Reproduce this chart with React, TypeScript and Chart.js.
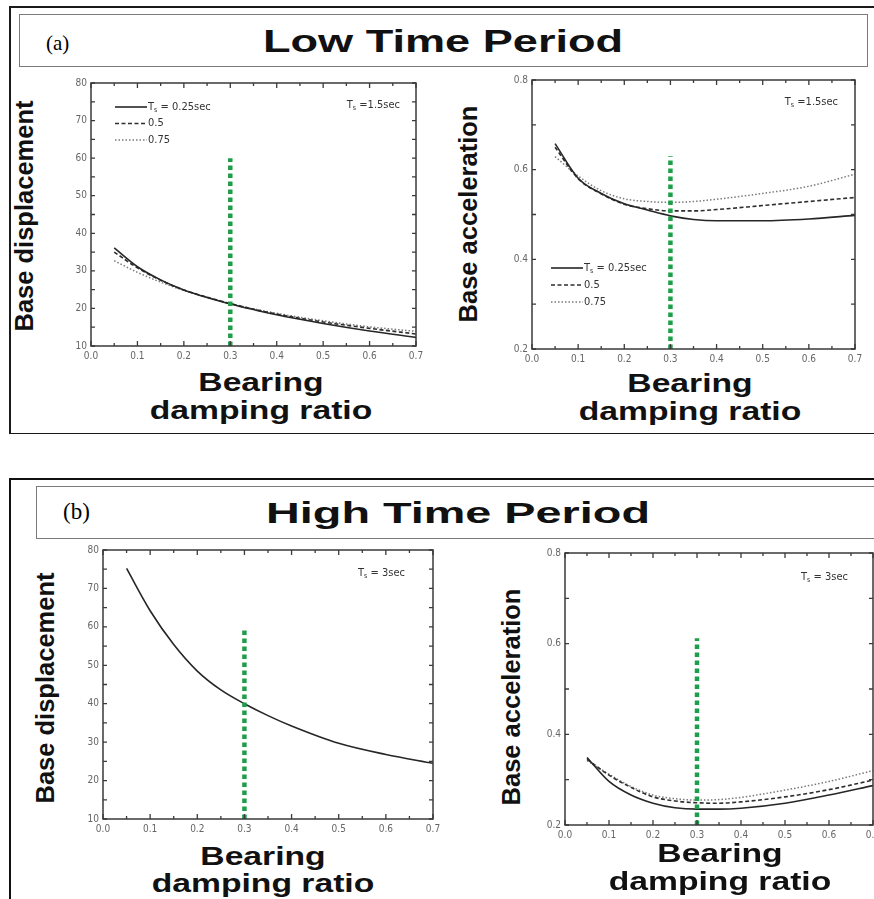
import React, { useEffect, useRef } from "react";
import { Chart, registerables } from "chart.js";

Chart.register(...registerables);

// ---------- data ----------
const dampingRatio = [0.05, 0.1, 0.15, 0.2, 0.25, 0.3, 0.35, 0.4, 0.5, 0.6, 0.7];

const lowDisp025 = [36.1, 31.1, 27.6, 24.9, 22.9, 21.2, 19.7, 18.3, 16.0, 14.0, 12.3];
const lowDisp05 = [35.0, 30.8, 27.5, 24.9, 23.0, 21.3, 19.8, 18.5, 16.4, 14.7, 13.2];
const lowDisp075 = [32.7, 29.6, 27.0, 24.8, 23.0, 21.3, 19.9, 18.7, 16.7, 15.1, 13.9];

const lowAcc025 = [0.658, 0.581, 0.547, 0.524, 0.51, 0.497, 0.489, 0.486, 0.486, 0.49, 0.498];
const lowAcc05 = [0.65, 0.58, 0.546, 0.523, 0.513, 0.508, 0.508, 0.511, 0.52, 0.529, 0.538];
const lowAcc075 = [0.629, 0.586, 0.553, 0.535, 0.529, 0.527, 0.529, 0.534, 0.547, 0.563, 0.59];

const highDisp = [75.2, 64.2, 55.4, 48.5, 43.6, 40.0, 36.9, 34.2, 29.7, 26.8, 24.5];

const highAcc025 = [0.349, 0.296, 0.266, 0.248, 0.238, 0.235, 0.235, 0.237, 0.248, 0.266, 0.287];
const highAcc05 = [0.345, 0.31, 0.283, 0.262, 0.253, 0.249, 0.248, 0.251, 0.262, 0.278, 0.299];
const highAcc075 = [0.342, 0.312, 0.285, 0.266, 0.258, 0.255, 0.256, 0.261, 0.277, 0.296, 0.32];

const markerRatio = 0.3;
const markerTopLowDisp = 60;
const markerTopLowAcc = 0.63;
const markerTopHighDisp = 59.6;
const markerTopHighAcc = 0.612;

const legendLabels = ["T_s = 0.25sec", "0.5", "0.75"];
const noteLow = "T_s =1.5sec";
const noteHigh = "T_s = 3sec";

const xTickLabels = ["0.0", "0.1", "0.2", "0.3", "0.4", "0.5", "0.6", "0.7"];

// ---------- styles ----------
const SMALL_FONT = '"Liberation Sans Narrow", "DejaVu Sans Condensed", "Liberation Sans", sans-serif';
const BOLD_FONT = '"Liberation Sans", Arial, sans-serif';
const GREEN = "#1f9e4a";

const seriesStyles = [
  { color: "#262626", width: 1.6, dash: [] as number[] },
  { color: "#2e2e2e", width: 1.6, dash: [4, 2.5] },
  { color: "#7a7a7a", width: 1.5, dash: [1.5, 2] },
];

function pairs(ys: number[]) {
  return dampingRatio.map((x, i) => ({ x, y: ys[i] }));
}

function drawSub(ctx: CanvasRenderingContext2D, text: string, x: number, y: number, size: number) {
  const parts = text.split("_");
  let cx = x;
  ctx.font = `${size}px ${SMALL_FONT}`;
  ctx.fillText(parts[0], cx, y);
  cx += ctx.measureText(parts[0]).width;
  if (parts.length > 1) {
    const sub = parts[1][0];
    const rest = parts[1].slice(1);
    ctx.font = `${size * 0.65}px ${SMALL_FONT}`;
    ctx.fillText(sub, cx, y + size * 0.3);
    cx += ctx.measureText(sub).width;
    ctx.font = `${size}px ${SMALL_FONT}`;
    ctx.fillText(rest, cx, y);
    cx += ctx.measureText(rest).width;
  }
  return cx - x;
}

function measureSub(ctx: CanvasRenderingContext2D, text: string, size: number) {
  const parts = text.split("_");
  ctx.font = `${size}px ${SMALL_FONT}`;
  let w = ctx.measureText(parts[0]).width;
  if (parts.length > 1) {
    ctx.font = `${size * 0.65}px ${SMALL_FONT}`;
    w += ctx.measureText(parts[1][0]).width;
    ctx.font = `${size}px ${SMALL_FONT}`;
    w += ctx.measureText(parts[1].slice(1)).width;
  }
  return w;
}

const decorPlugin = {
  id: "decor",
  afterDatasetsDraw(chart: any, _args: any, opts: any) {
    const { ctx, chartArea: a, scales } = chart;
    const xs = scales.x;
    const ys = scales.y;
    ctx.save();
    ctx.strokeStyle = "#3a3a3a";
    ctx.lineWidth = 1.5;
    ctx.setLineDash([]);
    ctx.strokeRect(a.left, a.top, a.right - a.left, a.bottom - a.top);
    ctx.lineWidth = 1.3;
    // x ticks (every 0.05, major every 0.1)
    for (let i = 0; i <= 14; i++) {
      const px = xs.getPixelForValue(i * 0.05);
      const len = i % 2 === 0 ? 5 : 3;
      ctx.beginPath();
      ctx.moveTo(px, a.bottom);
      ctx.lineTo(px, a.bottom - len);
      ctx.moveTo(px, a.top);
      ctx.lineTo(px, a.top + len);
      ctx.stroke();
    }
    // y ticks
    const n = Math.round((opts.yMax - opts.yMin) / opts.yMinor);
    for (let i = 0; i <= n; i++) {
      const py = ys.getPixelForValue(opts.yMin + i * opts.yMinor);
      const len = 4;
      ctx.beginPath();
      ctx.moveTo(a.left, py);
      ctx.lineTo(a.left + len, py);
      ctx.moveTo(a.right, py);
      ctx.lineTo(a.right - len, py);
      ctx.stroke();
    }
    // legend
    ctx.textBaseline = "middle";
    ctx.fillStyle = "#333";
    if (opts.legend) {
      const lg = opts.legend;
      legendLabels.forEach((lab, i) => {
        const st = seriesStyles[i];
        const y = a.top + lg.top + i * lg.row;
        const x0 = a.left + lg.left;
        ctx.strokeStyle = st.color;
        ctx.lineWidth = st.width;
        ctx.setLineDash(st.dash);
        ctx.beginPath();
        ctx.moveTo(x0, y);
        ctx.lineTo(x0 + lg.len, y);
        ctx.stroke();
        ctx.setLineDash([]);
        drawSub(ctx, lab, x0 + lg.len + 1, y, 11);
      });
    }
    if (opts.note) {
      const w = measureSub(ctx, opts.note.text, 11);
      drawSub(ctx, opts.note.text, a.right - opts.note.right - w, a.top + opts.note.top, 11);
    }
    ctx.restore();
  },
};

type PlotCfg = {
  series: number[][];
  yMin: number;
  yMax: number;
  yStep: number;
  yMinor: number;
  yDecimals: number;
  markerTop: number;
  legend?: { left: number; top: number; row: number; len: number };
  note: { text: string; right: number; top: number };
};

const YW = 30;
const PADT = 10;
const PADR = 12;
const XH = 20;

function Plot({ cfg, area }: { cfg: PlotCfg; area: { left: number; top: number; right: number; bottom: number } }) {
  const ref = useRef<HTMLCanvasElement>(null);
  const width = area.right - area.left + YW + PADR;
  const height = area.bottom - area.top + PADT + XH;
  useEffect(() => {
    const datasets: any[] = cfg.series.map((s, i) => ({
      data: pairs(s),
      borderColor: seriesStyles[i].color,
      borderWidth: seriesStyles[i].width,
      borderDash: seriesStyles[i].dash,
      pointRadius: 0,
      fill: false,
      cubicInterpolationMode: "monotone",
      order: 2,
    }));
    datasets.push({
      data: [
        { x: markerRatio, y: cfg.yMin },
        { x: markerRatio, y: cfg.markerTop },
      ],
      borderColor: GREEN,
      borderWidth: 4.5,
      borderDash: [4.5, 3.5],
      borderCapStyle: "butt",
      pointRadius: 0,
      fill: false,
      order: 0,
    });
    const chart = new Chart(ref.current as HTMLCanvasElement, {
      type: "line",
      data: { datasets },
      plugins: [decorPlugin],
      options: {
        animation: false,
        responsive: false,
        layout: { padding: { left: 0, top: PADT, right: PADR, bottom: 0 } },
        scales: {
          x: {
            type: "linear",
            min: 0,
            max: 0.7,
            afterFit: (s: any) => {
              s.height = XH;
            },
            grid: { display: false, drawTicks: false },
            border: { display: false },
            ticks: {
              stepSize: 0.1,
              padding: 4,
              color: "#666",
              font: { family: SMALL_FONT, size: 10 },
              maxRotation: 0,
              autoSkip: false,
              callback: (v: any) => xTickLabels[Math.round(Number(v) * 10)] ?? "",
            },
          },
          y: {
            type: "linear",
            min: cfg.yMin,
            max: cfg.yMax,
            afterFit: (s: any) => {
              s.width = YW;
            },
            grid: { display: false, drawTicks: false },
            border: { display: false },
            ticks: {
              stepSize: cfg.yStep,
              padding: 4,
              color: "#666",
              font: { family: SMALL_FONT, size: 10 },
              autoSkip: false,
              callback: (v: any) => Number(v).toFixed(cfg.yDecimals),
            },
          },
        },
        plugins: {
          legend: { display: false },
          tooltip: { enabled: false },
          decor: { yMin: cfg.yMin, yMax: cfg.yMax, yMinor: cfg.yMinor, legend: cfg.legend, note: cfg.note },
        } as any,
      },
    } as any);
    return () => chart.destroy();
  }, []);
  return (
    <canvas
      ref={ref}
      width={width}
      height={height}
      style={{ position: "absolute", left: area.left - YW, top: area.top - PADT, width, height }}
    />
  );
}

const boldText = (size: number): React.CSSProperties => ({
  position: "absolute",
  fontFamily: BOLD_FONT,
  fontWeight: 700,
  fontSize: size,
  lineHeight: 1,
  whiteSpace: "nowrap",
  color: "#111",
});

function YTitle({ text, cx, cy }: { text: string; cx: number; cy: number }) {
  return (
    <div
      style={{
        ...boldText(25.5),
        left: cx,
        top: cy,
        transform: "translate(-50%, -50%) rotate(-90deg)",
      }}
    >
      {text}
    </div>
  );
}

function XTitle({ cx, base1, base2, sx }: { cx: number; base1: number; base2: number; sx: number }) {
  const f = 25.5;
  return (
    <>
      <div style={{ ...boldText(f), left: cx, top: base1 - 0.8465 * f, transform: `translateX(-50%) scaleX(${sx})` }}>
        Bearing
      </div>
      <div style={{ ...boldText(f), left: cx, top: base2 - 0.8465 * f, transform: `translateX(-50%) scaleX(${sx})` }}>
        damping ratio
      </div>
    </>
  );
}

export default function App() {
  return (
    <div
      style={{
        position: "absolute",
        left: 0,
        top: 0,
        width: 874,
        height: 899,
        overflow: "hidden",
        background: "#fff",
      }}
    >
      {/* panel a */}
      <div
        style={{
          position: "absolute",
          left: 9,
          top: 6,
          width: 900,
          height: 425,
          borderTop: "2px solid #1a1a1a",
          borderLeft: "2px solid #1a1a1a",
          borderBottom: "1.5px solid #1a1a1a",
        }}
      />
      <div
        style={{
          position: "absolute",
          left: 19,
          top: 14,
          width: 847,
          height: 51,
          border: "1.5px solid #7a7a7a",
        }}
      />
      <div style={{ position: "absolute", left: 46, top: 33, fontFamily: '"Liberation Serif", serif', fontSize: 21, lineHeight: 1 }}>
        (a)
      </div>
      <div style={{ ...boldText(32), left: 442.5, top: 51.7 - 0.8465 * 32, transform: "translateX(-50%) scaleX(1.41)" }}>
        Low Time Period
      </div>

      {/* panel b */}
      <div
        style={{
          position: "absolute",
          left: 9,
          top: 478,
          width: 900,
          height: 450,
          borderTop: "2px solid #111",
          borderLeft: "2px solid #111",
        }}
      />
      <div
        style={{
          position: "absolute",
          left: 36,
          top: 486,
          width: 900,
          height: 51,
          border: "1.5px solid #7a7a7a",
        }}
      />
      <div style={{ position: "absolute", left: 63, top: 500, fontFamily: '"Liberation Serif", serif', fontSize: 23, lineHeight: 1 }}>
        (b)
      </div>
      <div style={{ ...boldText(30), left: 457.5, top: 523 - 0.8465 * 30, transform: "translateX(-50%) scaleX(1.56)" }}>
        High Time Period
      </div>

      <Plot
        area={{ left: 91, top: 83, right: 416, bottom: 346 }}
        cfg={{
          series: [lowDisp025, lowDisp05, lowDisp075],
          yMin: 10,
          yMax: 80,
          yStep: 10,
          yMinor: 5,
          yDecimals: 0,
          markerTop: markerTopLowDisp,
          legend: { left: 24, top: 24, row: 16.5, len: 32 },
          note: { text: noteLow, right: 16, top: 22 },
        }}
      />
      <Plot
        area={{ left: 532, top: 80, right: 855, bottom: 349 }}
        cfg={{
          series: [lowAcc025, lowAcc05, lowAcc075],
          yMin: 0.2,
          yMax: 0.8,
          yStep: 0.2,
          yMinor: 0.1,
          yDecimals: 1,
          markerTop: markerTopLowAcc,
          legend: { left: 19, top: 188, row: 17, len: 32 },
          note: { text: noteLow, right: 17, top: 22 },
        }}
      />
      <Plot
        area={{ left: 103, top: 550, right: 433, bottom: 819 }}
        cfg={{
          series: [highDisp],
          yMin: 10,
          yMax: 80,
          yStep: 10,
          yMinor: 5,
          yDecimals: 0,
          markerTop: markerTopHighDisp,
          note: { text: noteHigh, right: 28, top: 23 },
        }}
      />
      <Plot
        area={{ left: 565, top: 553, right: 873, bottom: 825 }}
        cfg={{
          series: [highAcc025, highAcc05, highAcc075],
          yMin: 0.2,
          yMax: 0.8,
          yStep: 0.2,
          yMinor: 0.1,
          yDecimals: 1,
          markerTop: markerTopHighAcc,
          note: { text: noteHigh, right: 25, top: 24 },
        }}
      />

      <YTitle text="Base displacement" cx={25} cy={216} />
      <YTitle text="Base acceleration" cx={469} cy={213.5} />
      <YTitle text="Base displacement" cx={46} cy={688} />
      <YTitle text="Base acceleration" cx={512} cy={697} />

      <XTitle cx={261} base1={391.7} base2={419.3} sx={1.32} />
      <XTitle cx={690} base1={393} base2={421} sx={1.32} />
      <XTitle cx={263} base1={866} base2={893} sx={1.32} />
      <XTitle cx={720} base1={863} base2={890.7} sx={1.32} />
    </div>
  );
}
